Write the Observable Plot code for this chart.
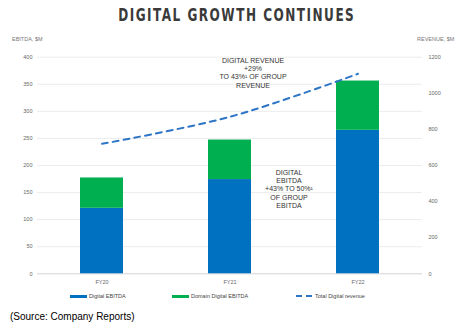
<!DOCTYPE html>
<html>
<head>
<meta charset="utf-8">
<script src="https://cdn.jsdelivr.net/npm/d3@7"></script>
<script src="https://cdn.jsdelivr.net/npm/@observablehq/plot@0.6"></script>
<style>
  body { margin: 0; width: 472px; height: 330px; background: #fff; position: relative; overflow: hidden; font-family: "Liberation Sans", sans-serif; }
  #title { position: absolute; left: 0; width: 472px; top: 4px; text-align: center; font-family: "DejaVu Sans Condensed", "DejaVu Sans", sans-serif; font-weight: bold; font-size: 18px; letter-spacing: 2px; color: #3a3a3a; transform: scaleX(0.745); transform-origin: 239px 0; white-space: nowrap; }
  #chart { position: absolute; left: 0; top: 28px; }
  .ann { position: absolute; text-align: center; font-size: 7px; line-height: 8.2px; color: #333; white-space: nowrap; transform: translateX(-50%); }
  .axlab { position: absolute; top: 36px; font-size: 5.5px; color: #777; white-space: nowrap; }
  .lg { position: absolute; top: 293px; font-size: 5.5px; color: #444; display: flex; align-items: center; white-space: nowrap; }
  .sw { display: inline-block; width: 17px; height: 3px; margin-right: 2px; }
  #source { position: absolute; left: 10px; top: 311px; font-size: 10px; color: #000; font-family: "Liberation Sans", sans-serif; }
</style>
</head>
<body>
<div id="title">DIGITAL GROWTH CONTINUES</div>
<div id="chart"></div>
<div class="axlab" style="left:12px;">EBITDA, $M</div>
<div class="axlab" style="left:417px;">REVENUE, $M</div>
<div class="ann" style="left:253px; top:57px;">DIGITAL REVENUE<br>+29%<br>TO 43%¹ OF GROUP<br>REVENUE</div>
<div class="ann" style="left:289px; top:169px;">DIGITAL<br>EBITDA<br>+43% TO 50%¹<br>OF GROUP<br>EBITDA</div>
<div id="legend"></div>
<div id="source">(Source: Company Reports)</div>
<script>
const years = ["FY20", "FY21", "FY22"];
const digitalEbitda = [121, 174, 265];
const domainEbitda = [56, 73, 91];
const totalRevenue = [720, 870, 1108];
const leftTicks = [0, 50, 100, 150, 200, 250, 300, 350, 400];
const rightTicks = [0, 200, 400, 600, 800, 1000, 1200];
const seriesNames = ["Digital EBITDA", "Domain Digital EBITDA", "Total Digital revenue"];
const colors = ["#0070c0", "#00b050", "#2e75c6"];

const ratio = 1200 / 400;
const bars = [];
years.forEach((y, i) => {
  bars.push({year: y, series: seriesNames[0], value: digitalEbitda[i]});
  bars.push({year: y, series: seriesNames[1], value: domainEbitda[i]});
});
const line = years.map((y, i) => ({year: y, rev: totalRevenue[i]}));

const chart = Plot.plot({
  width: 472,
  height: 262,
  marginTop: 28.7,
  marginBottom: 16.7,
  marginLeft: 37,
  marginRight: 50,
  style: {fontFamily: "Liberation Sans, sans-serif", fontSize: "5.5px", color: "#666", background: "transparent"},
  x: {domain: years, paddingInner: 0.664, paddingOuter: 0.332, label: null},
  y: {domain: [0, 400], label: null},
  color: {domain: seriesNames.slice(0, 2), range: colors.slice(0, 2)},
  marks: [
    Plot.ruleY(leftTicks.filter(d => d > 0), {stroke: "#ececec", strokeWidth: 1}),
    Plot.ruleY([0], {stroke: "#d4d4d4", strokeWidth: 1}),
    Plot.barY(bars, {x: "year", y: "value", fill: "series", order: seriesNames, inset: 0}),
    Plot.line(line, {x: "year", y: d => d.rev / ratio, stroke: colors[2], strokeWidth: 2, strokeDasharray: "6,5", curve: "catmull-rom"}),
    Plot.axisY(leftTicks, {anchor: "left", tickSize: 0, tickPadding: 5, fill: "#666", label: null}),
    Plot.axisY(rightTicks.map(d => d / ratio), {anchor: "right", tickSize: 0, tickPadding: 6, fill: "#666", tickFormat: d => String(Math.round(d * ratio)), label: null}),
    Plot.axisX({tickSize: 0, tickPadding: 6, fill: "#666", label: null})
  ]
});
document.getElementById("chart").appendChild(chart);

const legend = document.getElementById("legend");
const lgPos = [70, 172, 296];
seriesNames.forEach((name, i) => {
  const item = document.createElement("div");
  item.className = "lg";
  item.style.left = lgPos[i] + "px";
  const sw = document.createElement("span");
  sw.className = "sw";
  if (i < 2) {
    sw.style.background = colors[i];
  } else {
    sw.style.background = `repeating-linear-gradient(90deg, ${colors[2]} 0 6px, transparent 6px 10px)`;
    sw.style.height = "2px";
  }
  item.appendChild(sw);
  item.appendChild(document.createTextNode(name));
  legend.appendChild(item);
});
</script>
</body>
</html>
